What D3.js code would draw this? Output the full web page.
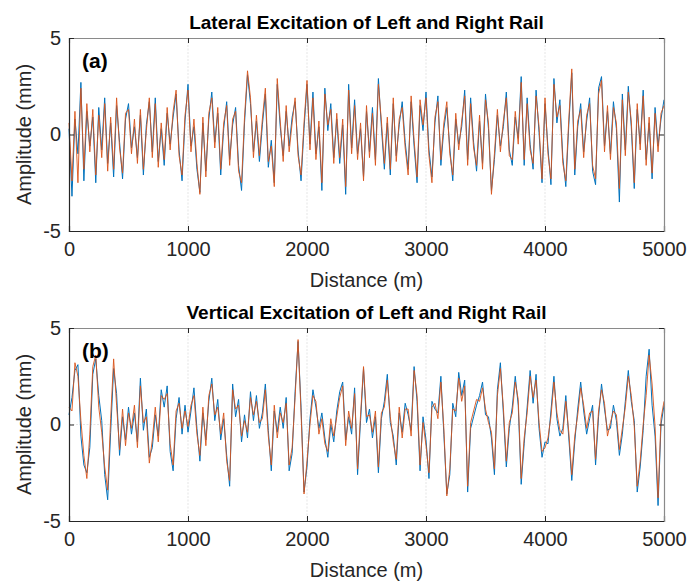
<!DOCTYPE html>
<html>
<head>
<meta charset="utf-8">
<script src="https://cdn.jsdelivr.net/npm/d3@7"></script>
<style>
  body { margin: 0; background: #fff; }
  text { font-family: "Liberation Sans", Arial, Helvetica, sans-serif; }
</style>
</head>
<body>
<div id="chart-area"></div>
<script>
// distance step of the sampled track profile (m)
var step = 25

// lateral excitation, left rail (blue) and right rail (orange), mm
var latLeft = [
  0.3, -3.2, 0.8, -1.0, 2.7, -2.4, 1.2, -0.6, 0.9, -2.5, 1.4, -0.8, 1.9, -1.5, 0.6, -2.2, 1.5, -0.4, -2.3, 0.8,
  1.6, -0.7, 0.4, -1.2, 1.0, -2.1, 0.5, 1.7, -0.9, 1.9, -1.4, 0.3, -1.6, 1.1, -0.5, 0.9, 2.1, -0.8, -2.4, 0.7,
  2.6, -0.6, 0.4, -1.8, -3.0, 0.6, -1.9, 0.8, 2.2, -0.4, 1.1, -2.1, 0.3, 1.7, -1.3, 0.5, 1.4, -1.6, -2.9, 0.6,
  3.1, 1.6, -0.9, 0.7, -1.4, 0.5, 2.1, -1.7, -0.3, -2.5, 2.6, 0.4, -1.1, 1.2, -0.6, 0.9, 1.7, -0.8, -2.4, 0.3,
  2.6, -0.5, 2.2, -1.0, 0.4, -2.9, 2.4, 0.2, 1.6, -1.2, 0.8, -1.5, 0.5, -3.1, 2.6, -0.7, 1.8, -1.0, 0.3, -2.2,
  1.2, -0.9, 1.4, -1.3, 2.9, 0.4, -1.8, 0.6, -2.1, 1.6, -1.1, 0.5, 1.7, -0.4, -1.8, 1.7, -0.6, -2.5, 1.5, 0.2,
  2.2, -0.8, -2.2, 0.6, 2.0, -1.6, 0.3, 1.4, -0.7, -2.4, 0.8, -0.5, 0.4, 2.3, -1.3, 1.9, -0.4, -1.9, 0.7, -1.5,
  2.1, 0.3, -2.9, -1.3, 1.0, -0.6, 0.4, 2.2, -0.8, -1.6, 0.9, -0.2, 3.0, -1.6, 1.9, -0.5, -1.8, 2.3, 0.1, -2.5,
  1.6, -0.7, -2.6, 2.9, 0.6, 1.8, -1.2, -2.7, 0.5, 3.2, -2.1, 0.4, 1.6, -0.9, 0.7, 1.9, -1.9, -2.6, 2.4, 3.0,
  -0.6, 1.2, -1.0, 1.7, 0.3, -3.5, 2.1, -0.8, 2.5, 0.4, -2.8, 1.3, -0.5, 2.3, -1.3, 0.6, -2.3, 1.4, -0.6, 0.8, 1.8
]
var latRight = [
  0.6, -2.4, 1.2, -2.5, 2.4, -1.8, 1.6, -0.9, 1.3, -2.1, 1.0, -1.2, 1.6, -1.9, 0.9, -1.8, 1.9, -0.7, -2.0, 1.1,
  1.3, -1.0, 0.8, -1.5, 1.3, -1.8, 0.2, 1.9, -1.2, 1.6, -1.7, 0.6, -1.3, 1.4, -0.8, 1.2, 2.3, -1.1, -2.1, 1.0,
  2.3, -0.9, 0.8, -1.5, -3.1, 0.9, -2.2, 1.1, 1.9, -0.7, 1.4, -1.8, 0.6, 1.5, -1.6, 0.8, 1.2, -1.9, -2.5, 0.9,
  3.3, 1.9, -1.2, 1.0, -1.1, 0.8, 2.4, -1.4, -0.6, -2.7, 2.9, 0.7, -1.4, 1.5, -0.9, 0.6, 1.9, -1.1, -2.1, 0.6,
  2.8, -0.8, 1.9, -1.3, 0.7, -2.5, 2.1, 0.5, 1.3, -1.5, 1.1, -1.2, 0.8, -2.7, 2.3, -1.0, 1.5, -1.3, 0.6, -2.4,
  1.5, -1.2, 1.1, -1.6, 2.6, 0.7, -1.5, 0.9, -1.8, 1.9, -1.4, 0.8, 1.4, -0.7, -2.1, 2.0, -0.3, -2.2, 1.8, 0.5,
  1.9, -1.1, -2.5, 0.9, 1.7, -1.3, 0.6, 1.7, -1.0, -2.1, 1.1, -0.8, 0.7, 2.0, -1.6, 1.6, -0.7, -1.6, 1.0, -1.8,
  1.8, 0.6, -3.1, -1.0, 1.3, -0.9, 0.7, 1.9, -1.1, -1.3, 1.2, -0.5, 2.7, -1.3, 1.6, -0.8, -1.5, 2.0, 0.4, -2.3,
  1.9, -1.0, -2.3, 2.6, 0.9, 1.5, -1.5, -2.4, 0.8, 3.4, -1.8, 0.7, 1.3, -1.2, 1.0, 1.6, -1.6, -2.3, 2.1, 2.8,
  -0.9, 1.5, -1.3, 1.4, 0.6, -2.8, 1.8, -1.1, 2.2, 0.7, -2.5, 1.6, -0.8, 2.0, -1.6, 0.9, -2.0, 1.1, -0.9, 1.1, 1.5
]

// vertical excitation, left rail (blue) and right rail (orange), mm
var verLeft = [
  0.5, 1.4, 2.8, 3.1, -0.6, -2.1, -2.5, -1.2, 2.6, 3.4, 1.5, 0.2, -2.6, -3.9, -0.4, 2.9, 1.6, -1.6, 0.4, -0.8,
  0.9, -0.5, 0.6, -0.9, 2.4, -0.3, 0.8, -1.7, -1.2, 0.5, -0.6, 1.8, 0.9, 2.0, -1.4, -2.4, 0.3, 1.4, -0.5, 1.0,
  -0.4, 0.7, 1.9, -0.2, -1.9, 0.6, -0.8, 1.2, 2.4, 0.2, 1.3, -0.8, 0.3, -1.6, -3.2, 2.1, 0.4, 1.3, -0.9, 0.5,
  -0.7, 1.7, 0.2, 1.5, -0.2, 0.6, 2.1, -0.3, -2.4, 0.7, -0.4, 0.9, -0.2, 1.4, -2.4, -1.5, 1.7, 4.3, 0.9, -3.5,
  -2.2, 0.3, 1.8, 0.9, -0.2, 0.6, -0.7, -1.7, 0.0, -0.9, 0.7, 1.7, 2.2, -0.8, 0.4, -0.5, 1.9, -2.6, 0.2, 2.9,
  0.1, 0.8, -0.7, 0.4, -2.5, 0.3, 1.2, 2.6, 0.1, -0.6, -2.1, 0.6, -0.4, 1.1, 0.5, -0.3, 3.0, 1.2, -2.4, 0.4,
  -0.8, -2.8, 1.2, 0.8, 0.6, 2.5, -0.5, -3.6, -2.6, 1.1, 0.4, 2.7, 1.5, 2.3, -3.5, -0.2, 0.4, 1.0, 1.5, 2.2,
  0.5, 0.4, -0.7, -2.6, 1.8, 3.2, 0.6, -2.2, -0.2, 0.9, 2.5, 1.0, -3.1, -1.0, 0.9, 2.8, 1.1, 2.6, -0.2, -1.7,
  -0.9, -1.0, 0.7, 2.5, 0.3, -0.6, -0.2, 1.5, -0.7, -2.9, -0.9, 0.8, 2.2, 0.7, -0.5, 0.3, 1.0, -2.1, 0.4, 2.1,
  0.8, -0.3, -0.2, 1.0, 0.2, -1.6, -0.5, 1.2, 2.8, 1.2, 0.2, -3.5, -2.2, -0.3, 2.5, 3.9, 1.0, -0.6, -4.2, 0.0, 1.0
]
var verRight = [
  0.9, 0.7, 3.2, 2.5, 0.2, -1.6, -2.8, -0.5, 3.0, 3.6, 0.9, -0.4, -2.2, -3.4, 0.3, 3.4, 1.0, -1.3, 0.8, -1.1,
  0.6, -0.2, 1.0, -1.2, 2.0, 0.1, 0.4, -2.0, -0.8, 0.9, -0.9, 1.5, 1.3, 1.6, -1.0, -2.1, 0.7, 1.1, -0.2, 0.7,
  -0.1, 1.0, 1.5, -0.5, -1.6, 0.9, -1.1, 1.5, 2.1, 0.5, 0.9, -0.5, 0.6, -1.9, -2.9, 1.8, 0.8, 1.0, -0.6, 0.2,
  -0.4, 1.4, 0.5, 1.2, 0.1, 0.3, 1.8, -0.6, -2.1, 1.0, -0.7, 0.6, 0.1, 1.1, -2.1, -1.2, 1.4, 4.4, 0.6, -3.6,
  -1.9, 0.0, 1.5, 1.2, -0.5, 0.3, -1.0, -1.4, 0.3, -0.6, 0.4, 1.4, 2.0, -1.1, 0.7, -0.2, 1.6, -2.3, 0.5, 3.0,
  0.4, 0.5, -0.4, 0.7, -2.2, 0.6, 0.9, 2.3, 0.4, -0.9, -1.8, 0.9, -0.7, 0.8, 0.8, -0.6, 2.8, 1.5, -2.1, 0.1,
  -1.1, -2.5, 0.9, 1.1, 0.3, 2.2, -0.2, -3.7, -2.3, 0.8, 0.7, 2.4, 1.2, 2.0, -3.2, 0.1, 0.7, 1.3, 1.2, 1.9,
  0.8, 0.1, -0.4, -2.3, 1.5, 2.9, 0.9, -1.9, 0.1, 0.6, 2.2, 1.3, -2.8, -0.7, 0.6, 2.5, 1.4, 2.3, 0.1, -1.4,
  -1.2, -0.7, 0.4, 2.2, 0.6, -0.3, -0.5, 1.2, -0.4, -2.6, -0.6, 0.5, 1.9, 1.0, -0.2, 0.6, 0.7, -1.8, 0.7, 1.8,
  1.1, -0.6, 0.1, 0.7, 0.5, -1.3, -0.2, 0.9, 2.5, 1.5, -0.1, -3.2, -1.9, 0.0, 1.5, 3.6, 2.1, -0.1, -3.8, 0.3, 1.2
]

var xTicks = [0, 1000, 2000, 3000, 4000, 5000]
var yTicks = [-5, 0, 5]

var panels = [
  { title: "Lateral Excitation of Left and Right Rail", tag: "(a)", left: latLeft, right: latRight, top: 38 },
  { title: "Vertical Excitation of Left and Right Rail", tag: "(b)", left: verLeft, right: verRight, top: 328 }
]

var W = 689, H = 585
var svg = d3.select("#chart-area").append("svg")
  .attr("width", W)
  .attr("height", H)

var x = d3.scaleLinear().domain([0, 5000]).range([69, 664])
var plotH = 193
var plain = function (d) { return String(d) }

panels.forEach(function (p) {
  var y = d3.scaleLinear().domain([-5, 5]).range([p.top + plotH, p.top])
  var g = svg.append("g")

  // grid
  g.selectAll(".vgrid")
    .data(xTicks.slice(1, -1))
    .enter().append("line")
    .attr("x1", function (d) { return x(d) })
    .attr("x2", function (d) { return x(d) })
    .attr("y1", p.top)
    .attr("y2", p.top + plotH)
    .attr("stroke", "#d4d4d4")
    .attr("stroke-width", 0.6)
    .attr("stroke-dasharray", "2,1.5")
  g.append("line")
    .attr("x1", x(0)).attr("x2", x(5000))
    .attr("y1", y(0)).attr("y2", y(0))
    .attr("stroke", "#d4d4d4")
    .attr("stroke-width", 0.6)
    .attr("stroke-dasharray", "2,1.5")

  var line = d3.line()
    .x(function (d, i) { return x(i * step) })
    .y(function (d) { return y(d) })

  g.append("path")
    .datum(p.left)
    .attr("d", line)
    .attr("fill", "none")
    .attr("stroke", "#0072BD")
    .attr("stroke-width", 1)
  g.append("path")
    .datum(p.right)
    .attr("d", line)
    .attr("fill", "none")
    .attr("stroke", "#D95319")
    .attr("stroke-width", 1)
    .attr("stroke-opacity", 0.9)

  // axes
  var xb = d3.axisBottom(x).tickValues(xTicks).tickSize(-5).tickPadding(11).tickFormat(plain)
  var xt = d3.axisTop(x).tickValues(xTicks).tickSize(-5).tickFormat("")
  var yl = d3.axisLeft(y).tickValues(yTicks).tickSize(-5).tickPadding(8).tickFormat(plain)
  var yr = d3.axisRight(y).tickValues(yTicks).tickSize(-5).tickFormat("")

  var ax = g.append("g").attr("transform", "translate(0," + (p.top + plotH) + ")").call(xb)
  var axT = g.append("g").attr("transform", "translate(0," + p.top + ")").call(xt)
  var ay = g.append("g").attr("transform", "translate(" + x(0) + ",0)").call(yl)
  var ayR = g.append("g").attr("transform", "translate(" + x(5000) + ",0)").call(yr)

  ;[ax, axT, ay, ayR].forEach(function (a) {
    a.selectAll("path").attr("stroke", "#262626").attr("stroke-width", 1.2)
    a.selectAll("line").attr("stroke", "#262626")
    a.selectAll("text").attr("fill", "#262626").style("font-size", "20px")
      .style("font-family", "'Liberation Sans', Arial, sans-serif")
  })
  axT.select("path").attr("stroke", "#8a8a8a")
  ayR.select("path").attr("stroke", "#8a8a8a")

  // titles and labels
  g.append("text")
    .attr("x", (x(0) + x(5000)) / 2)
    .attr("y", p.top - 9)
    .attr("text-anchor", "middle")
    .attr("font-weight", "bold")
    .attr("font-size", 19)
    .text(p.title)
  g.append("text")
    .attr("x", x(0) + 13)
    .attr("y", p.top + 30)
    .attr("font-weight", "bold")
    .attr("font-size", 21)
    .text(p.tag)
  g.append("text")
    .attr("x", (x(0) + x(5000)) / 2)
    .attr("y", p.top + plotH + 56)
    .attr("text-anchor", "middle")
    .attr("font-size", 20)
    .attr("fill", "#262626")
    .text("Distance (m)")
  g.append("text")
    .attr("transform", "translate(31," + y(0) + ") rotate(-90)")
    .attr("text-anchor", "middle")
    .attr("font-size", 20)
    .attr("fill", "#262626")
    .text("Amplitude (mm)")
})
</script>
</body>
</html>
